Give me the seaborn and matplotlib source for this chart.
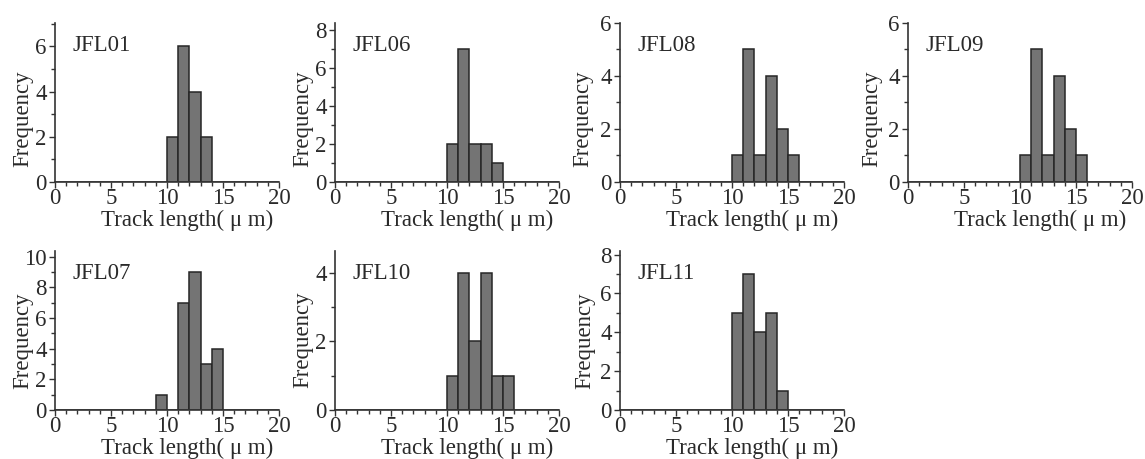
import matplotlib
matplotlib.use('Agg')
import matplotlib.pyplot as plt
from matplotlib.ticker import MultipleLocator
import seaborn as sns
import pandas as pd

# bin left edges (um), bins are 1 um wide
bin_left = [9, 10, 11, 12, 13, 14, 15]

jfl01 = [0, 2, 6, 4, 2, 0, 0]
jfl06 = [0, 2, 7, 2, 2, 1, 0]
jfl08 = [0, 1, 5, 1, 4, 2, 1]
jfl09 = [0, 1, 5, 1, 4, 2, 1]
jfl07 = [1, 0, 7, 9, 3, 4, 0]
jfl10 = [0, 1, 4, 2, 4, 1, 1]
jfl11 = [0, 5, 7, 4, 5, 1, 0]

samples = ['JFL01', 'JFL06', 'JFL08', 'JFL09', 'JFL07', 'JFL10', 'JFL11']
counts = [jfl01, jfl06, jfl08, jfl09, jfl07, jfl10, jfl11]
y_top = [7.05, 8.4, 6.0, 6.0, 10.4, 4.65, 8.2]

sns.set_style('ticks')
plt.rcParams['font.family'] = ['Liberation Serif', 'DejaVu Serif']

fig = plt.figure(figsize=(11.45, 4.59), dpi=100)

ax_w = 224 / 1145
ax_h = 0.347
lefts = [55 / 1145, 335 / 1145, 620 / 1145, 908 / 1145]
bottoms = [1 - 182 / 459, 1 - 410 / 459]
# ylabel placement per panel (axes fraction), as in the original figure
ylab_x = [-0.098, -0.098, -0.12, -0.116, -0.098, -0.098, -0.11]
ylab_y = [0.40, 0.40, 0.40, 0.40, 0.437, 0.44, 0.437]
fs = 16.5
txt = '#2a2a2a'

for i, (name, c) in enumerate(zip(samples, counts)):
    row, col = divmod(i, 4)
    ax = fig.add_axes([lefts[col], bottoms[row], ax_w, ax_h])
    df = pd.DataFrame({'length': [b + 0.5 for b in bin_left], 'n': c})
    df = df[df['n'] > 0]
    sns.histplot(data=df, x='length', weights='n', bins=range(0, 21),
                 color='#747474', edgecolor='#262626', linewidth=1.1,
                 alpha=1, ax=ax)
    ax.set_xlim(0, 20)
    ax.set_ylim(0, y_top[i])
    ax.xaxis.set_major_locator(MultipleLocator(5))
    ax.xaxis.set_minor_locator(MultipleLocator(1))
    ax.yaxis.set_major_locator(MultipleLocator(2))
    ax.yaxis.set_minor_locator(MultipleLocator(1))
    ax.tick_params(which='major', length=4, width=1, color='#333333',
                   labelsize=fs, direction='out', labelcolor=txt)
    ax.tick_params(axis='x', which='major', pad=0)
    ax.tick_params(axis='y', which='major', pad=2)
    ax.tick_params(which='minor', length=3, width=1, color='#333333', direction='out')
    for s in ['top', 'right']:
        ax.spines[s].set_visible(False)
    for s in ['left', 'bottom']:
        ax.spines[s].set_color('#333333')
        ax.spines[s].set_linewidth(1.2)
    ax.set_xlabel('Track length( μ m)', fontsize=fs, color=txt)
    ax.xaxis.set_label_coords(0.59, -0.175)
    ax.set_ylabel('Frequency', fontsize=fs, color=txt)
    ax.yaxis.set_label_coords(ylab_x[i], ylab_y[i])
    ax.text(0.08, 0.855, name, transform=ax.transAxes, fontsize=fs,
            va='center', ha='left', color=txt)

fig.savefig('out.png', dpi=100)
